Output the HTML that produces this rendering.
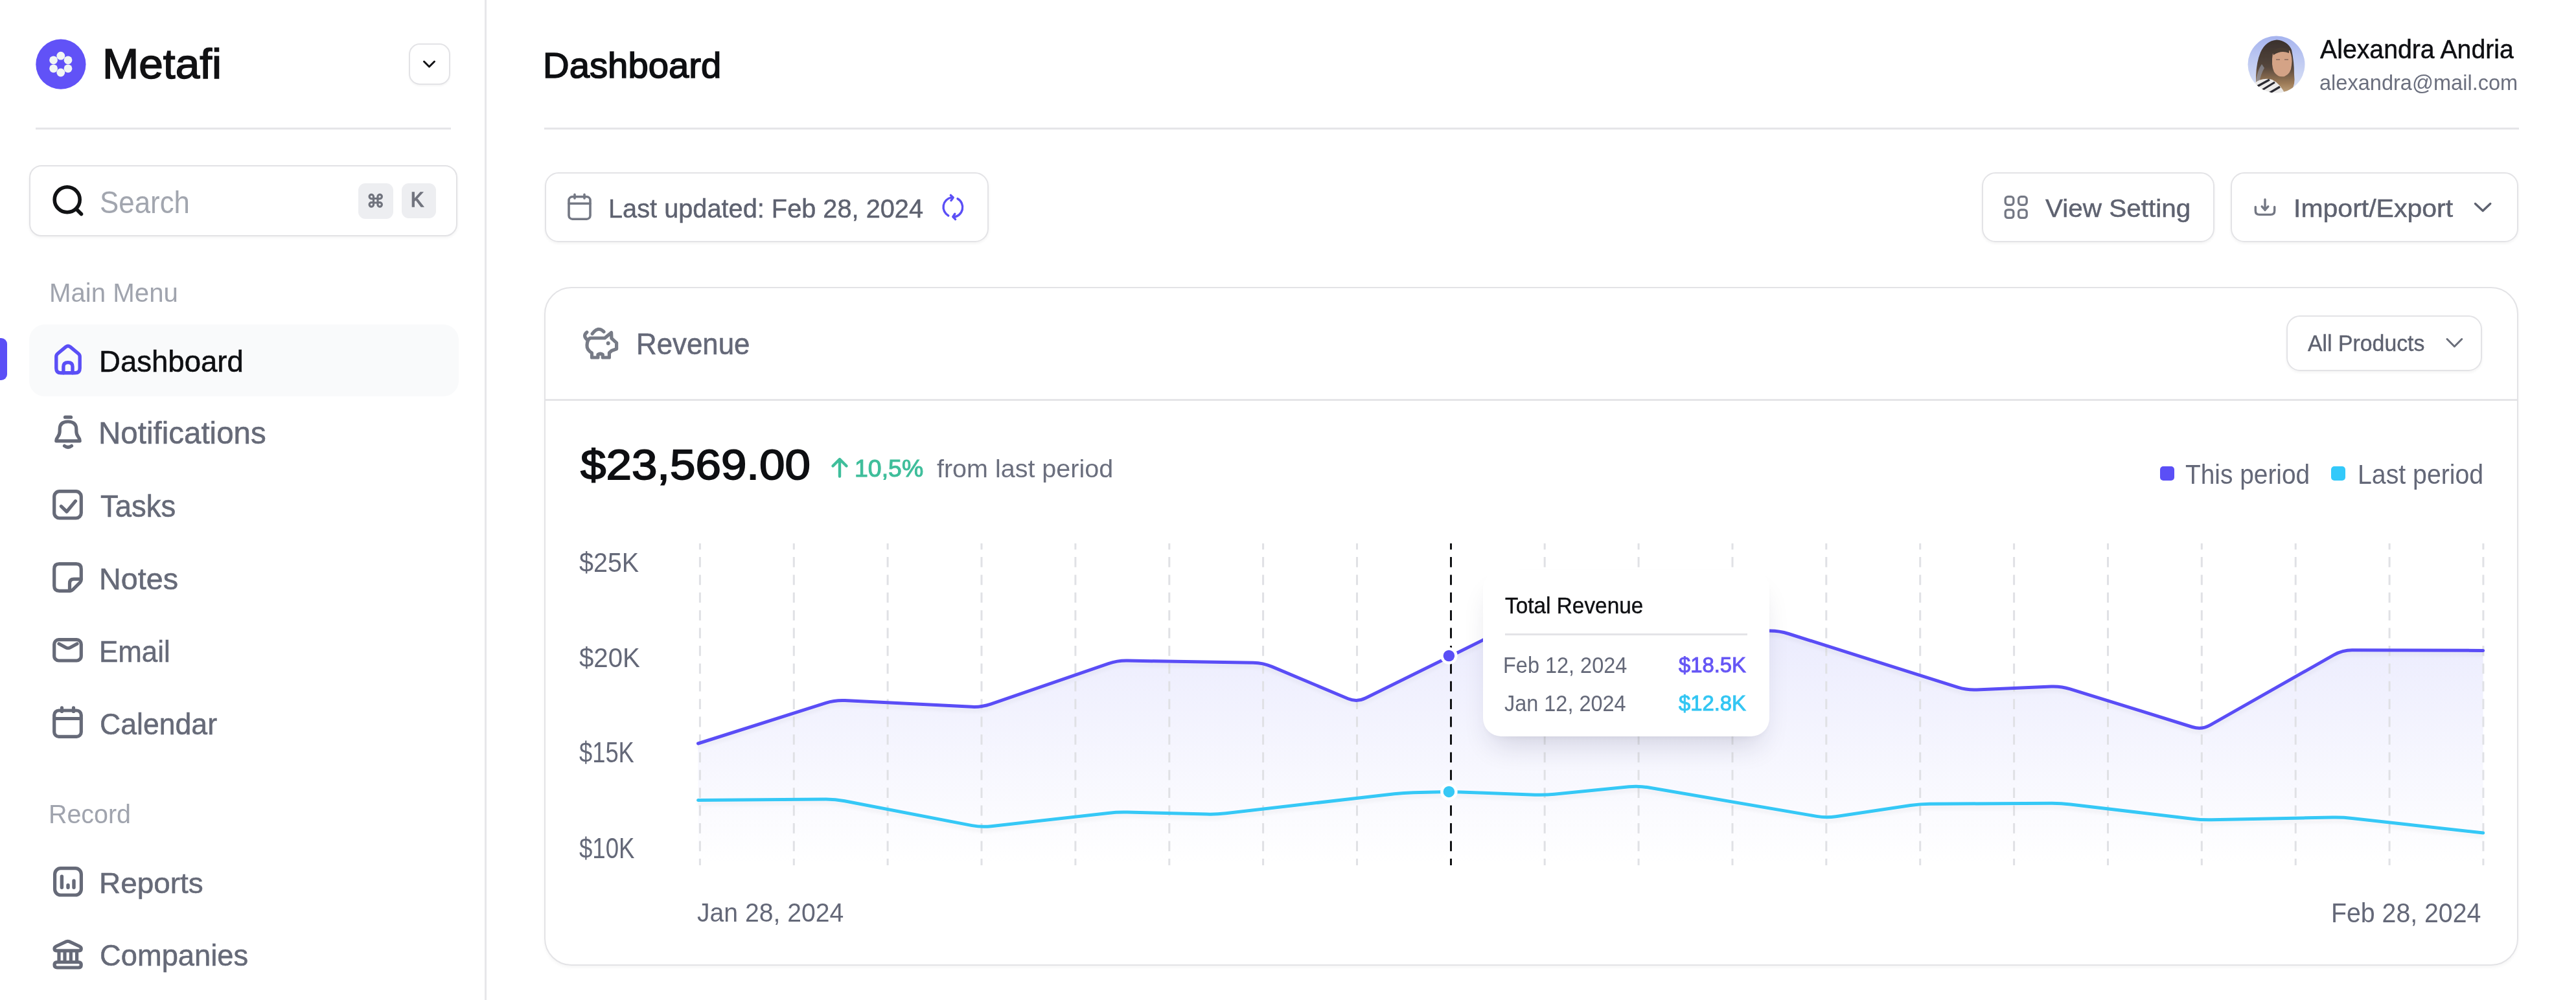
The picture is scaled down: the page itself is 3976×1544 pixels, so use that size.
<!DOCTYPE html>
<html><head><meta charset="utf-8"><title>Metafi Dashboard</title>
<style>
html,body{margin:0;padding:0;}
body{width:3976px;height:1544px;position:relative;overflow:hidden;background:#FFFFFF;font-family:"Liberation Sans", sans-serif;}
.t{position:absolute;white-space:nowrap;line-height:1;transform-origin:0 0;font-variant-ligatures:none;font-kerning:normal;}
.abs{position:absolute;box-sizing:border-box;}
svg{position:absolute;overflow:visible;}
</style></head><body>

<!-- sidebar border -->
<div class="abs" style="left:748px;top:0;width:3px;height:1544px;background:#E7E7EA"></div>
<!-- logo -->
<svg style="left:55px;top:61px" width="78" height="78" viewBox="0 0 78 78">
  <circle cx="38.9" cy="38.2" r="38.6" fill="#6152F7"/>
  <g fill="#F1F6F4">
    <circle cx="38.8" cy="25.2" r="6.4"/><circle cx="50" cy="31.8" r="6.4"/><circle cx="50" cy="44.8" r="6.4"/>
    <circle cx="38.8" cy="51" r="6.4"/><circle cx="27.6" cy="44.8" r="6.4"/><circle cx="27.6" cy="31.8" r="6.4"/>
  </g>
</svg>
<!-- collapse btn -->
<div class="abs" style="left:631px;top:66.5px;width:64px;height:64.5px;border:2px solid #E3E3E6;border-radius:17px;box-shadow:0 2px 3px rgba(0,0,0,0.04)"></div>
<svg style="left:650px;top:90px" width="26" height="18" viewBox="0 0 26 18"><path d="M4.5 5 L12.5 13 L20.5 5" fill="none" stroke="#131316" stroke-width="3" stroke-linecap="round" stroke-linejoin="round"/></svg>
<!-- divider -->
<div class="abs" style="left:55px;top:197px;width:641px;height:2.5px;background:#E5E5E8"></div>
<!-- search -->
<div class="abs" style="left:45px;top:254.5px;width:660.5px;height:110px;border:2px solid #E2E2E5;border-radius:19px;box-shadow:0 2px 4px rgba(0,0,0,0.05)"></div>
<svg style="left:78px;top:283px" width="54" height="54" viewBox="0 0 54 54"><circle cx="25.7" cy="25.3" r="19.5" fill="none" stroke="#111214" stroke-width="5.6"/><path d="M41 41 L47.5 47.5" stroke="#111214" stroke-width="5.6" stroke-linecap="round"/></svg>
<div class="abs" style="left:553px;top:282.5px;width:54px;height:55px;background:#EDEEF1;border-radius:11px"></div>
<div class="abs" style="left:619.5px;top:282.5px;width:53.5px;height:54px;background:#EDEEF1;border-radius:11px"></div>
<svg style="left:567px;top:297px" width="28" height="28" viewBox="0 0 28 28"><path d="M9.5 9.5 H16 V16 H9.5 Z M9.5 9.5 V6.8 A3.2 3.2 0 1 0 6.3 9.8 H9.5 M16 9.5 V6.8 A3.2 3.2 0 1 1 19.2 9.8 H16 M9.5 16 V18.7 A3.2 3.2 0 1 1 6.3 15.7 H9.5 M16 16 V18.7 A3.2 3.2 0 1 0 19.2 15.7 H16" fill="none" stroke="#70737D" stroke-width="3.2"/></svg>
<!-- active menu -->
<div class="abs" style="left:44.5px;top:500.5px;width:663.5px;height:111.5px;background:#F9FAFB;border-radius:24px"></div>
<div class="abs" style="left:0;top:521.5px;width:11px;height:65.5px;background:#5B4FF6;border-radius:0 9px 9px 0"></div>
<!-- menu icons -->
<svg style="left:81px;top:531px" width="48" height="48" viewBox="0 0 48 48"><g fill="none" stroke="#5B4FF6" stroke-width="5.4" stroke-linejoin="round" stroke-linecap="round">
<path d="M5.8 19.5 Q5.8 16.8 8 15 L20.5 4.6 Q24 1.9 27.5 4.6 L40 15 Q42.2 16.8 42.2 19.5 L42.2 37.5 Q42.2 44.8 35 44.8 L13 44.8 Q5.8 44.8 5.8 37.5 Z"/>
<path d="M16.9 44.8 L16.9 35 Q16.9 28.6 24 28.6 Q31 28.6 31 35 L31 44.8"/></g></svg>
<svg style="left:81px;top:641px" width="48" height="54" viewBox="0 0 48 54"><g fill="none" stroke="#666A78" stroke-width="5.2" stroke-linejoin="round" stroke-linecap="round">
<path d="M19.5 3.2 L28.5 3.2"/>
<path d="M5.8 39.8 L42.2 39.8 Q42.2 36.5 39.5 33 Q36.8 29.6 36.8 24.5 L36.8 21.5 Q36.8 10 24 10 Q11.2 10 11.2 21.5 L11.2 24.5 Q11.2 29.6 8.5 33 Q5.8 36.5 5.8 39.8 Z"/>
<path d="M18.5 47.5 Q24 51.5 29.5 47.5"/></g></svg>
<svg style="left:81px;top:756px" width="48" height="48" viewBox="0 0 48 48"><g fill="none" stroke="#666A78" stroke-width="5.2" stroke-linejoin="round" stroke-linecap="round">
<rect x="2.7" y="2.7" width="41.6" height="41.3" rx="8"/>
<path d="M13.3 25.7 L22 34 L35.5 17.7"/></g></svg>
<svg style="left:81px;top:868px" width="48" height="48" viewBox="0 0 48 48"><g fill="none" stroke="#666A78" stroke-width="5.2" stroke-linejoin="round" stroke-linecap="round">
<path d="M10.5 2.7 L36.5 2.7 Q44.3 2.7 44.3 10.5 L44.3 27 Q44.3 29.5 42.5 31.3 L31.3 42.5 Q29.5 44.3 27 44.3 L10.5 44.3 Q2.7 44.3 2.7 36.5 L2.7 10.5 Q2.7 2.7 10.5 2.7 Z"/>
<path d="M44 26.2 L33 26.2 Q26.5 26.2 26.5 32.7 L26.5 44"/></g></svg>
<svg style="left:81px;top:985px" width="48" height="40" viewBox="0 0 48 40"><g fill="none" stroke="#666A78" stroke-width="5.2" stroke-linejoin="round" stroke-linecap="round">
<rect x="2.7" y="2.7" width="41.6" height="32.3" rx="7"/>
<path d="M10 9 L20.5 14.8 Q24 16.7 27.5 14.8 L38 9"/></g></svg>
<svg style="left:81px;top:1090px" width="48" height="52" viewBox="0 0 48 52"><g fill="none" stroke="#666A78" stroke-width="5.2" stroke-linejoin="round" stroke-linecap="round">
<rect x="2.7" y="7" width="41.6" height="40.3" rx="7"/>
<path d="M3 19.5 L44 19.5 M14.5 2.8 L14.5 8.5 M32.5 2.8 L32.5 8.5"/></g></svg>
<svg style="left:81px;top:1338px" width="48" height="48" viewBox="0 0 48 48"><g fill="none" stroke="#666A78" stroke-width="5.2" stroke-linejoin="round" stroke-linecap="round">
<rect x="3.6" y="2.7" width="40.8" height="41.3" rx="9"/>
<path d="M14.4 15.1 L14.4 32.3 M24 28.7 L24 32.3 M33 21.9 L33 32.3" stroke-width="5.4"/></g></svg>
<svg style="left:81px;top:1450px" width="48" height="48" viewBox="0 0 48 48"><g fill="none" stroke="#666A78" stroke-width="5.2" stroke-linejoin="round" stroke-linecap="round">
<path d="M6 17.8 Q3 17.8 3 14.8 Q3 12.3 5.8 11 L21.6 3.7 Q23.65 2.9 25.7 3.7 L41.5 11 Q44.3 12.3 44.3 14.8 Q44.3 17.8 41.3 17.8 Z"/>
<path d="M7.3 35.5 L40 35.5 Q44.3 35.5 44.3 39.75 Q44.3 44 40 44 L7.3 44 Q3 44 3 39.75 Q3 35.5 7.3 35.5 Z"/>
<path d="M10 20 L10 33 M19 20 L19 33 M28.4 20 L28.4 33 M37.6 20 L37.6 33"/></g></svg>
<!-- main divider -->
<div class="abs" style="left:840px;top:197px;width:3048px;height:2.5px;background:#E5E5E8"></div>
<!-- avatar -->
<svg style="left:3469px;top:55px" width="90" height="90" viewBox="0 0 90 90">
<defs><clipPath id="avc"><circle cx="44.5" cy="44.5" r="44"/></clipPath>
<linearGradient id="avbg" x1="0" y1="0" x2="0" y2="1"><stop offset="0" stop-color="#A6B4EF"/><stop offset="1" stop-color="#DFE6F5"/></linearGradient>
<linearGradient id="hair" x1="0" y1="0" x2="0" y2="1"><stop offset="0" stop-color="#3A312D"/><stop offset="0.5" stop-color="#54453B"/><stop offset="0.8" stop-color="#9C7A57"/><stop offset="1" stop-color="#C2A57E"/></linearGradient></defs>
<filter id="avblur"><feGaussianBlur stdDeviation="0.7"/></filter><g clip-path="url(#avc)"><g filter="url(#avblur)">
<rect width="90" height="90" fill="url(#avbg)"/>
<path d="M13 90 L13 62 Q14 40 20 26 Q28 8 45 6.5 Q62 8 68 22 Q72 40 72 60 Q74 76 68 84 L60 90 Z" fill="url(#hair)"/>
<path d="M13 70 Q16 52 22 44 L26 50 Q20 60 18 74 Z" fill="#9AA0B0" opacity="0.6"/>
<path d="M39 27 Q50 19 65 23 Q70 34 68 46 Q67 59 57 63 Q47 65 41 56 Q36 46 39 27 Z" fill="#D4A386"/>
<path d="M38 24 Q50 14 64 22 L64 27 Q52 22 40 30 Z" fill="#473A33"/>
<path d="M44 37 L50 37 M57 37 L63 37" stroke="#8A6A5C" stroke-width="1.6"/>
<path d="M6 90 L10 74 Q22 64 38 68 Q50 74 58 90 Z" fill="#ECEBEA"/>
<g stroke="#2B2B32" stroke-width="3.2"><path d="M12 80 L34 68 M16 88 L42 72 M28 92 L50 79"/></g>
</g></g></svg>
<!-- last updated -->
<div class="abs" style="left:841px;top:266px;width:685px;height:107.5px;border:2px solid #E3E3E6;border-radius:21px;box-shadow:0 2px 4px rgba(0,0,0,0.05)"></div>
<svg style="left:866px;top:290px" width="60" height="60" viewBox="0 0 60 60"><g fill="none" stroke="#747884" stroke-width="3.6" stroke-linecap="round" stroke-linejoin="round">
<rect x="12" y="13.8" width="33" height="34.4" rx="5.5"/><path d="M12 24.3 L45 24.3 M21 10.4 L21 16.2 M36 10.4 L36 16.2"/></g></svg>
<svg style="left:1440px;top:290px" width="60" height="60" viewBox="0 0 60 60"><g fill="none" stroke="#5B4FF6" stroke-width="3.4" stroke-linecap="round" stroke-linejoin="round">
<path d="M28.5 14.8 A15.2 15.2 0 0 0 23.8 43"/><path d="M38 16.8 A15.2 15.2 0 0 1 31.5 45.2"/>
<path d="M27.4 11.4 L31.2 15 L28 19.6"/><path d="M33.8 40.2 L30.8 44.6 L34.6 48.6"/></g></svg>
<!-- view setting -->
<div class="abs" style="left:3058.5px;top:266px;width:359px;height:107.5px;border:2px solid #E3E3E6;border-radius:21px;box-shadow:0 2px 4px rgba(0,0,0,0.05)"></div>
<svg style="left:3080px;top:290px" width="60" height="60" viewBox="0 0 60 60"><g fill="none" stroke="#747884" stroke-width="3.3">
<rect x="15.2" y="13.7" width="12.6" height="12.6" rx="4"/><rect x="35.6" y="13.7" width="12.6" height="12.6" rx="4"/>
<rect x="15.2" y="33.8" width="12.6" height="12.6" rx="4"/><rect x="35.6" y="33.8" width="12.6" height="12.6" rx="4"/></g></svg>
<!-- import export -->
<div class="abs" style="left:3442.5px;top:266px;width:444px;height:107.5px;border:2px solid #E3E3E6;border-radius:21px;box-shadow:0 2px 4px rgba(0,0,0,0.05)"></div>
<svg style="left:3466px;top:290px" width="60" height="60" viewBox="0 0 60 60"><g fill="none" stroke="#747884" stroke-width="3.4" stroke-linecap="round" stroke-linejoin="round">
<path d="M15.3 29.4 L15.3 35.5 Q15.3 41.4 21.3 41.4 L38.7 41.4 Q44.7 41.4 44.7 35.5 L44.7 29.4"/><path d="M30 18 L30 34.6 M25.2 28.8 L30 34 L34.8 28.8"/></g></svg>
<svg style="left:3812px;top:306px" width="40" height="28" viewBox="0 0 40 28"><path d="M8.5 8.5 L20.2 19.5 L31.8 8.5" fill="none" stroke="#5E6270" stroke-width="3.4" stroke-linecap="round" stroke-linejoin="round"/></svg>

<!-- card -->
<div class="abs" style="left:839.5px;top:442.5px;width:3047px;height:1048px;border:2px solid #E3E3E6;border-radius:42px;box-shadow:0 3px 5px rgba(0,0,0,0.04);background:#fff"></div>
<div class="abs" style="left:842px;top:616px;width:3043px;height:2.5px;background:#E5E5E8"></div>
<svg style="left:890px;top:495px" width="75" height="70" viewBox="0 0 75 70"><g fill="none" stroke="#777B86" stroke-width="5.2" stroke-linecap="round" stroke-linejoin="round">
<path d="M24.2 20.3 Q33 8 42 17.2"/><path d="M15.8 17.9 Q9 23.5 16.5 29.8"/>
<path d="M21 27 L43.4 27 L53.6 18.6 L53.9 27.3 L61.6 34.3 L61.6 43.8 L54 46.5 L50.4 49.7 L50.4 57 L40.3 57 L40.3 52.5 Q36.6 50 32.9 52.5 L32.9 57 L23.5 57 L23.5 50 Q15.5 45 16 38 Q16.5 29 21 27 Z"/></g>
<circle cx="48.7" cy="35" r="3" fill="#777B86"/></svg>
<div class="abs" style="left:3528.5px;top:486.5px;width:302px;height:86.5px;border:2px solid #E3E3E6;border-radius:21px;box-shadow:0 2px 4px rgba(0,0,0,0.05)"></div>
<svg style="left:3770px;top:515px" width="36" height="28" viewBox="0 0 36 28"><path d="M7 8.5 L18.4 20 L29.8 8.5" fill="none" stroke="#6A6E7A" stroke-width="3" stroke-linecap="round" stroke-linejoin="round"/></svg>
<!-- arrow up -->
<svg style="left:1278px;top:700px" width="36" height="44" viewBox="0 0 36 44"><g fill="none" stroke="#3FBE9B" stroke-width="4.4" stroke-linecap="round" stroke-linejoin="round"><path d="M18 9.5 L18 35.5 M7.5 19.5 L18 9 L28.5 19.5"/></g></svg>
<!-- legend -->
<div class="abs" style="left:3334px;top:720px;width:22px;height:22px;background:#5B4FF6;border-radius:5px"></div>
<div class="abs" style="left:3598px;top:720px;width:22px;height:22px;background:#33C9FA;border-radius:5px"></div>
<!-- chart -->
<svg style="left:840px;top:440px" width="3100" height="960" viewBox="0 0 3100 960">
<defs><linearGradient id="afill" x1="0" y1="530" x2="0" y2="896" gradientUnits="userSpaceOnUse"><stop offset="0" stop-color="#5A5EF2" stop-opacity="0.12"/><stop offset="1" stop-color="#5A5EF2" stop-opacity="0.0"/></linearGradient>
<filter id="lsh" x="-5%" y="-50%" width="110%" height="200%"><feGaussianBlur in="SourceAlpha" stdDeviation="3"/><feOffset dy="5"/><feComponentTransfer><feFuncA type="linear" slope="0.05"/></feComponentTransfer><feMerge><feMergeNode/><feMergeNode in="SourceGraphic"/></feMerge></filter></defs>
<path d="M237.5 708.0 L434.7 645.3 Q449.0 640.8 464.0 641.5 L660.0 651.3 Q675.0 652.0 689.2 647.1 L870.8 584.7 Q885.0 579.8 900.0 580.1 L1094.6 583.3 Q1109.6 583.6 1123.4 589.4 L1240.6 638.7 Q1254.4 644.5 1267.9 637.8 L1385.8 579.5 Q1399.3 572.8 1412.7 566.2 L1458.3 543.6 Q1471.7 537.0 1486.7 536.9 L1891.3 534.1 Q1906.3 534.0 1920.6 538.5 L2181.7 621.2 Q2196.0 625.7 2211.0 625.0 L2325.9 620.0 Q2340.9 619.3 2355.2 623.8 L2543.8 682.5 Q2558.2 687.0 2571.2 679.6 L2762.4 571.1 Q2775.5 563.7 2790.4 563.7 L2992.7 564.4 L2992.7 896 L237.5 896 Z" fill="url(#afill)"/>
<g stroke="#E0E1E5" stroke-width="3" stroke-dasharray="15.8 11.6" stroke-dashoffset="6.4"><line x1="240.4" y1="399" x2="240.4" y2="896" /><line x1="385.3" y1="399" x2="385.3" y2="896" /><line x1="530.1" y1="399" x2="530.1" y2="896" /><line x1="675.0" y1="399" x2="675.0" y2="896" /><line x1="819.9" y1="399" x2="819.9" y2="896" /><line x1="964.8" y1="399" x2="964.8" y2="896" /><line x1="1109.6" y1="399" x2="1109.6" y2="896" /><line x1="1254.5" y1="399" x2="1254.5" y2="896" /><line x1="1544.2" y1="399" x2="1544.2" y2="896" /><line x1="1689.1" y1="399" x2="1689.1" y2="896" /><line x1="1834.0" y1="399" x2="1834.0" y2="896" /><line x1="1978.8" y1="399" x2="1978.8" y2="896" /><line x1="2123.7" y1="399" x2="2123.7" y2="896" /><line x1="2268.6" y1="399" x2="2268.6" y2="896" /><line x1="2413.5" y1="399" x2="2413.5" y2="896" /><line x1="2558.3" y1="399" x2="2558.3" y2="896" /><line x1="2703.2" y1="399" x2="2703.2" y2="896" /><line x1="2848.1" y1="399" x2="2848.1" y2="896" /><line x1="2992.9" y1="399" x2="2992.9" y2="896" /></g>
<path d="M237.5 708.0 L434.7 645.3 Q449.0 640.8 464.0 641.5 L660.0 651.3 Q675.0 652.0 689.2 647.1 L870.8 584.7 Q885.0 579.8 900.0 580.1 L1094.6 583.3 Q1109.6 583.6 1123.4 589.4 L1240.6 638.7 Q1254.4 644.5 1267.9 637.8 L1385.8 579.5 Q1399.3 572.8 1412.7 566.2 L1458.3 543.6 Q1471.7 537.0 1486.7 536.9 L1891.3 534.1 Q1906.3 534.0 1920.6 538.5 L2181.7 621.2 Q2196.0 625.7 2211.0 625.0 L2325.9 620.0 Q2340.9 619.3 2355.2 623.8 L2543.8 682.5 Q2558.2 687.0 2571.2 679.6 L2762.4 571.1 Q2775.5 563.7 2790.4 563.7 L2992.7 564.4" fill="none" stroke="#5A4DF6" stroke-width="5" stroke-linecap="round" stroke-linejoin="round" filter="url(#lsh)"/>
<path d="M237.5 795.4 L434.0 794.1 Q449.0 794.0 463.7 796.8 L660.2 834.6 Q675.0 837.4 689.9 835.7 L870.1 815.4 Q885.0 813.7 900.0 814.1 L1022.1 817.1 Q1037.1 817.5 1052.0 815.8 L1311.9 785.7 Q1326.9 784.0 1341.8 783.7 L1384.3 782.7 Q1399.3 782.4 1414.3 783.0 L1529.2 787.2 Q1544.1 787.8 1559.1 786.3 L1674.1 774.7 Q1689.0 773.2 1703.8 775.7 L1963.9 820.4 Q1978.7 822.9 1993.6 820.7 L2108.7 803.5 Q2123.6 801.3 2138.6 801.2 L2325.9 800.3 Q2340.9 800.2 2355.8 802.0 L2543.3 824.2 Q2558.2 826.0 2573.2 825.7 L2760.5 822.0 Q2775.5 821.7 2790.4 823.4 L2992.7 846.0" fill="none" stroke="#36C8F6" stroke-width="5" stroke-linecap="round" stroke-linejoin="round" filter="url(#lsh)"/>
<line x1="1399.5" y1="399" x2="1399.5" y2="896" stroke="#111214" stroke-width="3" stroke-dasharray="15.8 11.6" stroke-dashoffset="6.4"/>
<circle cx="1396.4" cy="572.5" r="11" fill="#5B4FF6" stroke="#fff" stroke-width="4.5"/>
<circle cx="1396.4" cy="782.4000000000001" r="11" fill="#37C8F5" stroke="#fff" stroke-width="4.5"/>
</svg>
<!-- tooltip -->
<div class="abs" style="left:2289px;top:880px;width:442px;height:257px;background:#fff;border-radius:28px;box-shadow:0 26px 44px -14px rgba(30,30,70,0.16), 0 6px 12px -6px rgba(30,30,60,0.06)"></div>
<div class="abs" style="left:2322.7px;top:978px;width:374.5px;height:2.5px;background:#E4E4E7"></div>

<div class="t" id="metafi" style="left:157.89px;top:66.44px;font-size:65.56px;color:#111113;font-weight:normal;-webkit-text-stroke:1.57px #111113;transform:scaleX(1.0309);">Metaf&zwnj;i</div>
<div class="t" id="search" style="left:154.18px;top:287.60px;font-size:48.12px;color:#A2A6AF;font-weight:normal;transform:scaleX(0.9116);">Search</div>
<div class="t" id="k" style="left:634.18px;top:294.47px;font-size:30.75px;color:#71747E;font-weight:normal;-webkit-text-stroke:1.54px #71747E;transform:scaleX(0.9652);">K</div>
<div class="t" id="mainmenu" style="left:76.09px;top:430.77px;font-size:41.45px;color:#A0A4AE;font-weight:normal;transform:scaleX(0.9703);">Main Menu</div>
<div class="t" id="m_dash" style="left:153.10px;top:533.54px;font-size:47.06px;color:#0E0F12;font-weight:normal;-webkit-text-stroke:0.56px #0E0F12;transform:scaleX(0.9684);">Dashboard</div>
<div class="t" id="m_notif" style="left:151.97px;top:645.41px;font-size:47.20px;color:#666A78;font-weight:normal;-webkit-text-stroke:0.57px #666A78;transform:scaleX(1.0067);">Notif&zwnj;ications</div>
<div class="t" id="m_tasks" style="left:155.03px;top:757.91px;font-size:47.20px;color:#666A78;font-weight:normal;-webkit-text-stroke:0.57px #666A78;transform:scaleX(0.9639);">Tasks</div>
<div class="t" id="m_notes" style="left:152.99px;top:870.52px;font-size:46.50px;color:#666A78;font-weight:normal;-webkit-text-stroke:0.56px #666A78;transform:scaleX(1.0044);">Notes</div>
<div class="t" id="m_email" style="left:153.12px;top:983.75px;font-size:45.65px;color:#666A78;font-weight:normal;-webkit-text-stroke:0.55px #666A78;transform:scaleX(0.9615);">Email</div>
<div class="t" id="m_cal" style="left:154.09px;top:1095.02px;font-size:46.50px;color:#666A78;font-weight:normal;-webkit-text-stroke:0.56px #666A78;transform:scaleX(0.9591);">Calendar</div>
<div class="t" id="record" style="left:75.12px;top:1237.14px;font-size:41.01px;color:#A0A4AE;font-weight:normal;transform:scaleX(0.9611);">Record</div>
<div class="t" id="m_rep" style="left:152.96px;top:1341.23px;font-size:45.09px;color:#666A78;font-weight:normal;-webkit-text-stroke:0.54px #666A78;transform:scaleX(1.0186);">Reports</div>
<div class="t" id="m_comp" style="left:154.03px;top:1453.13px;font-size:45.79px;color:#666A78;font-weight:normal;-webkit-text-stroke:0.55px #666A78;transform:scaleX(0.9894);">Companies</div>
<div class="t" id="title" style="left:837.99px;top:73.35px;font-size:56.24px;color:#0E0F12;font-weight:normal;-webkit-text-stroke:1.57px #0E0F12;transform:scaleX(1.0010);">Dashboard</div>
<div class="t" id="name" style="left:3580.97px;top:57.27px;font-size:40.16px;color:#0E0F12;font-weight:normal;-webkit-text-stroke:0.48px #0E0F12;transform:scaleX(0.9772);">Alexandra Andria</div>
<div class="t" id="lastupd" style="left:939.09px;top:301.87px;font-size:40.86px;color:#5E6270;font-weight:normal;-webkit-text-stroke:0.49px #5E6270;transform:scaleX(0.9725);">Last updated: Feb 28, 2024</div>
<div class="t" id="viewset" style="left:3157.00px;top:302.46px;font-size:39.59px;color:#5E6270;font-weight:normal;-webkit-text-stroke:0.48px #5E6270;transform:scaleX(1.0233);">View Setting</div>
<div class="t" id="impexp" style="left:3539.89px;top:302.46px;font-size:39.59px;color:#5E6270;font-weight:normal;-webkit-text-stroke:0.48px #5E6270;transform:scaleX(1.0361);">Import/Export</div>
<div class="t" id="revenue" style="left:982.13px;top:509.13px;font-size:45.79px;color:#646878;font-weight:normal;-webkit-text-stroke:0.55px #646878;transform:scaleX(0.9573);">Revenue</div>
<div class="t" id="allprod" style="left:3561.99px;top:512.58px;font-size:34.80px;color:#5E6270;font-weight:normal;-webkit-text-stroke:0.42px #5E6270;transform:scaleX(0.9717);">All Products</div>
<div class="t" id="amount" style="left:896.00px;top:684.53px;font-size:65.18px;color:#0E0F12;font-weight:normal;-webkit-text-stroke:1.83px #0E0F12;transform:scaleX(1.0882);">$23,569.00</div>
<div class="t" id="pct" style="left:1319.01px;top:704.97px;font-size:37.49px;color:#3FBE9B;font-weight:normal;-webkit-text-stroke:1.12px #3FBE9B;transform:scaleX(0.9994);">10,5%</div>
<div class="t" id="thisp" style="left:3373.07px;top:711.72px;font-size:41.74px;color:#646878;font-weight:normal;transform:scaleX(0.9310);">This period</div>
<div class="t" id="lastp" style="left:3639.18px;top:711.72px;font-size:41.74px;color:#646878;font-weight:normal;transform:scaleX(0.9403);">Last period</div>
<div class="t" id="y25" style="left:894.04px;top:848.28px;font-size:42.03px;color:#646878;font-weight:normal;transform:scaleX(0.9395);">$25K</div>
<div class="t" id="y20" style="left:894.06px;top:994.09px;font-size:43.19px;color:#646878;font-weight:normal;transform:scaleX(0.9304);">$20K</div>
<div class="t" id="y15" style="left:894.17px;top:1139.51px;font-size:44.93px;color:#646878;font-weight:normal;transform:scaleX(0.8088);">$15K</div>
<div class="t" id="y10" style="left:894.15px;top:1287.97px;font-size:43.91px;color:#646878;font-weight:normal;transform:scaleX(0.8337);">$10K</div>
<div class="t" id="xl" style="left:1076.03px;top:1389.39px;font-size:41.30px;color:#646878;font-weight:normal;transform:scaleX(0.9473);">Jan 28, 2024</div>
<div class="t" id="xr" style="left:3598.20px;top:1389.28px;font-size:42.03px;color:#646878;font-weight:normal;transform:scaleX(0.9344);">Feb 28, 2024</div>
<div class="t" id="email" style="left:3579.56px;top:110.25px;font-size:34.06px;color:#6B6F7E;font-weight:normal;transform:scaleX(0.9558);">alexandra@mail.com</div>
<div class="t" id="fromlast" style="left:1446.39px;top:704.86px;font-size:38.41px;color:#6B6F7E;font-weight:normal;transform:scaleX(1.0282);">from last period</div>
<div class="t" id="tt_title" style="left:2323.04px;top:916.61px;font-size:35.93px;color:#0E0F12;font-weight:normal;-webkit-text-stroke:0.43px #0E0F12;transform:scaleX(0.9290);">Total Revenue</div>
<div class="t" id="tt_d1" style="left:2320.22px;top:1009.73px;font-size:34.78px;color:#646878;font-weight:normal;transform:scaleX(0.9338);">Feb 12, 2024</div>
<div class="t" id="tt_v1" style="left:2591.00px;top:1010.96px;font-size:32.36px;color:#6656F5;font-weight:normal;-webkit-text-stroke:0.97px #6656F5;transform:scaleX(1.0137);">$18.5K</div>
<div class="t" id="tt_d2" style="left:2322.07px;top:1068.39px;font-size:35.07px;color:#646878;font-weight:normal;transform:scaleX(0.9254);">Jan 12, 2024</div>
<div class="t" id="tt_v2" style="left:2591.00px;top:1069.62px;font-size:32.63px;color:#33C6F3;font-weight:normal;-webkit-text-stroke:0.98px #33C6F3;transform:scaleX(1.0045);">$12.8K</div>
</body></html>
